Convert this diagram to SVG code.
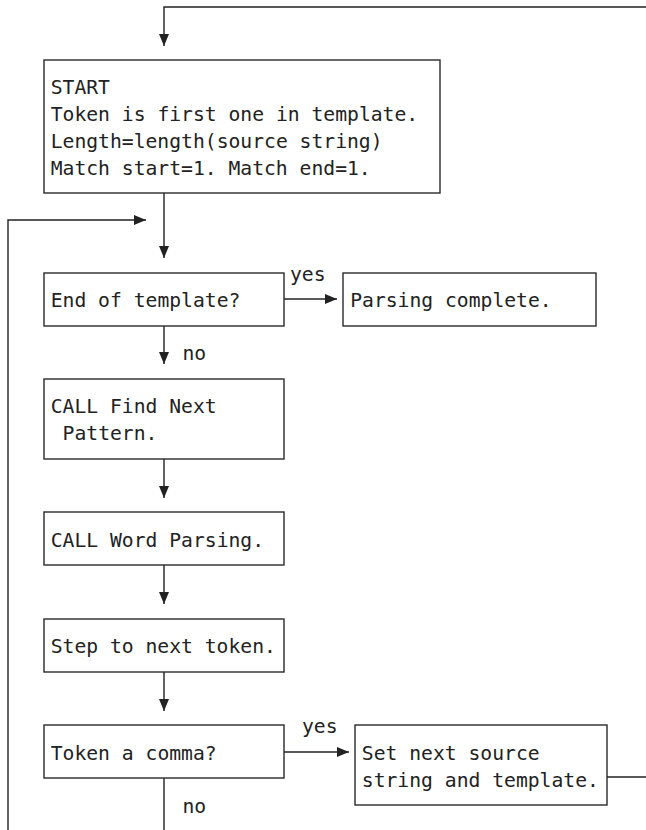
<svg xmlns="http://www.w3.org/2000/svg" width="646" height="830" viewBox="0 0 646 830">
<style>
  .box { fill: #ffffff; stroke: #2a2a2a; stroke-width: 1.4; }
  .t { font-family: "DejaVu Sans Mono", "Liberation Mono", monospace; font-size: 20px; fill: #222222; }
  .c { fill: none; stroke: #222222; stroke-width: 1.4; }
</style>
<defs>
  <marker id="ah" markerUnits="userSpaceOnUse" markerWidth="12" markerHeight="10" refX="12" refY="5" orient="auto">
    <path d="M0,0 L12,5 L0,10 z" fill="#222222"/>
  </marker>
</defs>
<rect width="646" height="830" fill="#ffffff"/>
<g id="connectors">
  <path class="c" d="M646,7 H164 V46" marker-end="url(#ah)"/>
  <path class="c" d="M164,193 V258" marker-end="url(#ah)"/>
  <path class="c" d="M8,830 V220 H146" marker-end="url(#ah)"/>
  <path class="c" d="M284,299 H337" marker-end="url(#ah)"/>
  <path class="c" d="M164,326 V364" marker-end="url(#ah)"/>
  <path class="c" d="M164,459 V498" marker-end="url(#ah)"/>
  <path class="c" d="M164,565 V604" marker-end="url(#ah)"/>
  <path class="c" d="M164,672 V711" marker-end="url(#ah)"/>
  <path class="c" d="M284,752 H349" marker-end="url(#ah)"/>
  <path class="c" d="M607,777 H646"/>
  <path class="c" d="M164,778 V830"/>
  <text class="t" x="290" y="281" textLength="35.6" lengthAdjust="spacingAndGlyphs">yes</text>
  <text class="t" x="182.5" y="360" textLength="23.7" lengthAdjust="spacingAndGlyphs">no</text>
  <text class="t" x="302" y="733" textLength="35.6" lengthAdjust="spacingAndGlyphs">yes</text>
  <text class="t" x="182.5" y="813" textLength="23.7" lengthAdjust="spacingAndGlyphs">no</text>
</g>
<g id="start">
  <rect class="box" x="44" y="60" width="396" height="133"/>
  <text class="t" x="50.7" y="94" textLength="59.3" lengthAdjust="spacingAndGlyphs">START</text>
  <text class="t" x="50.7" y="121" textLength="367.5" lengthAdjust="spacingAndGlyphs">Token is first one in template.</text>
  <text class="t" x="50.7" y="148" textLength="331.9" lengthAdjust="spacingAndGlyphs">Length=length(source string)</text>
  <text class="t" x="50.7" y="175" textLength="320" lengthAdjust="spacingAndGlyphs">Match start=1. Match end=1.</text>
</g>
<g id="end-of-template">
  <rect class="box" x="44" y="273" width="240" height="53"/>
  <text class="t" x="50.7" y="306.7" textLength="189.7" lengthAdjust="spacingAndGlyphs">End of template?</text>
</g>
<g id="parsing-complete">
  <rect class="box" x="343" y="273" width="253" height="53"/>
  <text class="t" x="350.2" y="306.7" textLength="201.5" lengthAdjust="spacingAndGlyphs">Parsing complete.</text>
</g>
<g id="find-next-pattern">
  <rect class="box" x="44" y="379" width="240" height="80"/>
  <text class="t" x="50.7" y="413.3" textLength="166" lengthAdjust="spacingAndGlyphs">CALL Find Next</text>
  <text class="t" x="62.6" y="440" textLength="94.8" lengthAdjust="spacingAndGlyphs">Pattern.</text>
</g>
<g id="word-parsing">
  <rect class="box" x="44" y="512" width="240" height="53"/>
  <text class="t" x="50.7" y="546.7" textLength="213.4" lengthAdjust="spacingAndGlyphs">CALL Word Parsing.</text>
</g>
<g id="step-next-token">
  <rect class="box" x="44" y="619" width="240" height="53"/>
  <text class="t" x="50.7" y="653.3" textLength="225.2" lengthAdjust="spacingAndGlyphs">Step to next token.</text>
</g>
<g id="token-comma">
  <rect class="box" x="44" y="725" width="240" height="53"/>
  <text class="t" x="50.7" y="760" textLength="166" lengthAdjust="spacingAndGlyphs">Token a comma?</text>
</g>
<g id="set-next-source">
  <rect class="box" x="355" y="725" width="252" height="80"/>
  <text class="t" x="361.8" y="760" textLength="177.8" lengthAdjust="spacingAndGlyphs">Set next source</text>
  <text class="t" x="361.8" y="786.7" textLength="237.1" lengthAdjust="spacingAndGlyphs">string and template.</text>
</g>
</svg>
